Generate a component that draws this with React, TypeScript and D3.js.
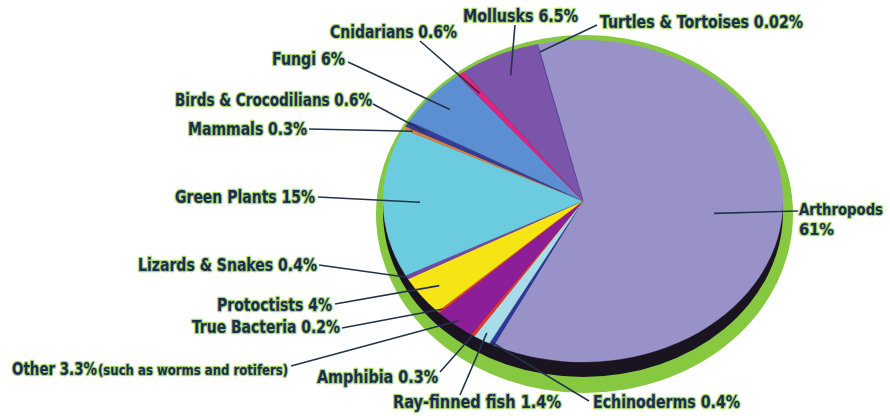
import React from "react";
import * as d3 from "d3";

// ---- data ----
const categories = [
  "Arthropods",
  "Echinoderms",
  "Ray-finned fish",
  "Amphibia",
  "Other",
  "True Bacteria",
  "Protoctists",
  "Lizards & Snakes",
  "Green Plants",
  "Mammals",
  "Birds & Crocodilians",
  "Fungi",
  "Cnidarians",
  "Mollusks",
  "Turtles & Tortoises",
];
const percents = [61, 0.4, 1.4, 0.3, 3.3, 0.2, 4, 0.4, 15, 0.3, 0.6, 6, 0.6, 6.5, 0.02];
const percentLabels = ["61%", "0.4%", "1.4%", "0.3%", "3.3%", "0.2%", "4%", "0.4%", "15%", "0.3%", "0.6%", "6%", "0.6%", "6.5%", "0.02%"];
const otherNote = "(such as worms and rotifers)";

// ---- styles ----
const sliceColors = [
  "#9892c9", "#2b3a9a", "#a9dbe9", "#e8352e", "#8c1f98", "#e8402a", "#f5e514",
  "#7346a8", "#6bcbdf", "#e0813a", "#353c98", "#5b8fd1", "#e8207e", "#7a55a9", "#4a3d9a",
];

// ---- layout (label placement) ----
// anchor: text anchor, x/y: text position, lx/ly: outer end of leader, f: radial fraction of inner end, w: text width
const labelLayout = [
  { anchor: "start", x: 799, y: 215, lx: 798, ly: 211, f: 0.66, w: 84 },
  { anchor: "start", x: 593, y: 408, lx: 589, ly: 401, f: 0.99, w: 147 },
  { anchor: "start", x: 393, y: 408, lx: 460, ly: 395, f: 0.95, w: 168 },
  { anchor: "start", x: 317, y: 383, lx: 440, ly: 372, f: 1.0, w: 121 },
  { anchor: "start", x: 12, y: 375, lx: 291, ly: 366, f: 0.97, w: 85 },
  { anchor: "end", x: 340, y: 333, lx: 342, ly: 328, f: 0.97, w: 148 },
  { anchor: "end", x: 332, y: 311, lx: 335, ly: 304, f: 0.89, w: 115 },
  { anchor: "end", x: 317, y: 271, lx: 319, ly: 265, f: 1.0, w: 179 },
  { anchor: "end", x: 315, y: 203, lx: 318, ly: 197, f: 0.815, w: 140 },
  { anchor: "end", x: 307, y: 135, lx: 309, ly: 129, f: 0.955, w: 119 },
  { anchor: "end", x: 372, y: 106, lx: 373, ly: 104, f: 0.9, w: 197 },
  { anchor: "end", x: 345, y: 65, lx: 348, ly: 62, f: 0.875, w: 73 },
  { anchor: "start", x: 330, y: 38, lx: 420, ly: 41, f: 0.845, w: 127 },
  { anchor: "start", x: 463, y: 22, lx: 515, ly: 25, f: 0.86, w: 115 },
  { anchor: "start", x: 600, y: 28, lx: 597, ly: 25, f: 0.95, w: 203 },
];

const W = 890;
const H = 416;
const cx = 583;
const cy = 201;
const rx = 200;
const ry = 161;
const startDeg = -13.1;

const FONT = "'Liberation Sans Narrow', 'DejaVu Sans Condensed', 'Arial Narrow', sans-serif";

function Label({ text, x, y, anchor, w, size }: any) {
  return (
    <text
      x={x}
      y={y}
      textAnchor={anchor}
      fontFamily={FONT}
      fontWeight="bold"
      fontSize={size}
      textLength={w}
      lengthAdjust="spacingAndGlyphs"
      fill="#1d2b55"
      stroke="#a6d870"
      strokeWidth={2.4}
      strokeLinejoin="round"
      paintOrder="stroke"
    >
      {text}
    </text>
  );
}

export default function App() {
  const start = (startDeg * Math.PI) / 180;
  const pie = d3
    .pie<number>()
    .sort(null)
    .value((d) => d)
    .startAngle(start)
    .endAngle(start + 2 * Math.PI);
  const arcs = pie(percents);
  const arc = d3.arc<d3.PieArcDatum<number>>().innerRadius(0).outerRadius(rx);
  const sy = ry / rx;

  return (
    <svg
      width={W}
      height={H}
      style={{ position: "absolute", left: 0, top: 0, background: "#ffffff" }}
    >
      {/* green rim */}
      <ellipse cx={cx + 1.5} cy={cy + 13} rx={rx + 8.5} ry={ry + 18} fill="#86c940" />
      {/* dark side wall */}
      <ellipse cx={cx} cy={cy + 11} rx={rx} ry={ry + 4} fill="#1a1420" />
      {/* slices */}
      <g transform={`translate(${cx},${cy}) scale(1,${sy})`}>
        {arcs.map((a, i) => (
          <path key={categories[i]} d={arc(a) || ""} fill={sliceColors[i]} stroke={sliceColors[i]} strokeWidth={0.3} />
        ))}
      </g>
      {/* leaders */}
      {arcs.map((a, i) => {
        const L = labelLayout[i];
        const mid = (a.startAngle + a.endAngle) / 2;
        const ix = cx + Math.sin(mid) * rx * L.f;
        const iy = cy - Math.cos(mid) * ry * L.f;
        return (
          <line
            key={"l" + i}
            x1={L.lx}
            y1={L.ly}
            x2={ix}
            y2={iy}
            stroke="#22344a"
            strokeWidth={1.6}
          />
        );
      })}
      {/* labels */}
      {arcs.map((a, i) => {
        const L = labelLayout[i];
        if (i === 0) {
          return (
            <g key={"t" + i}>
              <Label text={categories[i]} x={L.x} y={L.y} anchor="start" w={L.w} size={15} />
              <Label text={percentLabels[i]} x={L.x} y={L.y + 20} anchor="start" w={35} size={16} />
            </g>
          );
        }
        if (i === 4) {
          return (
            <g key={"t" + i}>
              <Label text={`${categories[i]} ${percentLabels[i]}`} x={L.x} y={L.y} anchor="start" w={L.w} size={17} />
              <Label text={otherNote} x={L.x + L.w + 1} y={L.y} anchor="start" w={190} size={14} />
            </g>
          );
        }
        return (
          <Label
            key={"t" + i}
            text={`${categories[i]} ${percentLabels[i]}`}
            x={L.x}
            y={L.y}
            anchor={L.anchor}
            w={L.w}
            size={17}
          />
        );
      })}
    </svg>
  );
}
